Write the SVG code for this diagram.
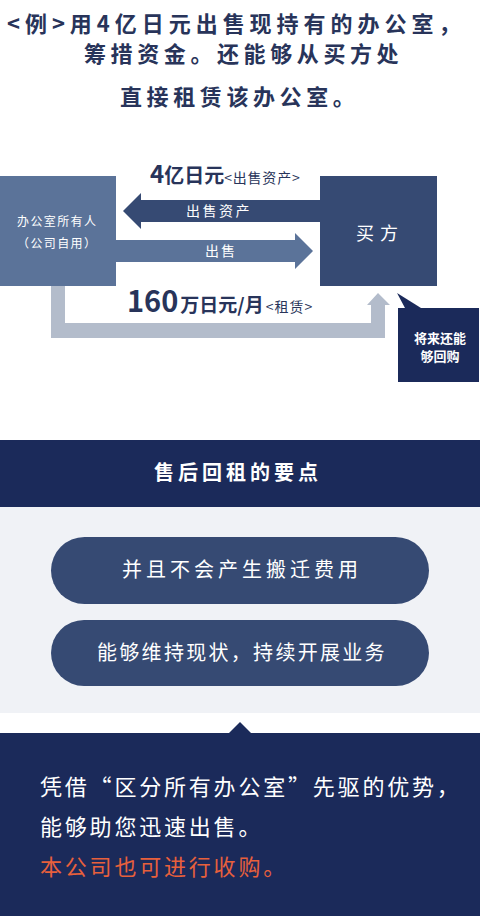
<svg xmlns="http://www.w3.org/2000/svg" width="480" height="916" viewBox="0 0 480 916">
<style>
text{font-family:"Noto Sans CJK SC","Noto Sans",sans-serif}
.title{font-size:22px;fill:#28345a;font-weight:700;letter-spacing:4.6px}
.w{fill:#ffffff}
.b{font-weight:700}
.navy{fill:#1b2a5a}
.mid{fill:#364a73}
.light{fill:#5b7399}
.ret{fill:#b3bccb}
.dk{fill:#28345a}
</style>
<rect width="480" height="916" fill="#ffffff"/>
<g id="title">
<text class="title" x="7" y="32" textLength="458" lengthAdjust="spacing" letter-spacing="0">&lt;例&gt;用4亿日元出售现持有的办公室，</text>
<text class="title" x="84" y="62">筹措资金。还能够从买方处</text>
<text class="title" x="120" y="105">直接租赁该办公室。</text>
</g>
<g id="connectors">
<polygon class="mid" points="320,200 141,200 141,193 123,211 141,229 141,222 320,222"/>
<polygon class="light" points="116,240 295,240 295,233 313,251 295,269 295,262 116,262"/>
<polygon class="ret" points="51,286 65,286 65,323 371,323 371,305 367,305 378,293 390,305 385,305 385,338 51,338"/>
<text class="w" x="186" y="216" font-size="14" letter-spacing="2.5">出售资产</text>
<text class="w" x="205" y="256" font-size="14" letter-spacing="2">出售</text>
<text class="dk b" x="150" y="183" font-size="20"><tspan font-size="24">4</tspan>亿日元<tspan font-size="14" font-weight="400" letter-spacing="0.8" dx="0">&lt;出售资产&gt;</tspan></text>
<text class="dk b" x="127" y="312" font-size="19"><tspan font-size="29">160</tspan><tspan dx="2">万日元/月</tspan><tspan font-size="14" font-weight="400" letter-spacing="1" dx="2">&lt;租赁&gt;</tspan></text>
</g>
<g id="owner">
<rect class="light" x="0" y="176" width="116" height="110"/>
<text class="w" x="17" y="226" font-size="12" letter-spacing="1.4">办公室所有人</text>
<text class="w" x="17" y="248" font-size="12" letter-spacing="1.4">（公司自用）</text>
</g>
<g id="buyer">
<rect class="mid" x="320" y="176" width="117" height="110"/>
<text class="w" x="356" y="240" font-size="18" letter-spacing="6">买方</text>
</g>
<g id="buyback">
<polygon class="navy" points="397,293 421,308 405,308"/>
<rect class="navy" x="398" y="308" width="81" height="74"/>
<text class="w b" x="440" y="343" font-size="13" text-anchor="middle">将来还能</text>
<text class="w b" x="440" y="361" font-size="13" text-anchor="middle">够回购</text>
</g>
<g id="points-header">
<rect class="navy" x="0" y="440" width="480" height="67"/>
<text class="w b" x="154" y="480" font-size="20" letter-spacing="4">售后回租的要点</text>
</g>
<g id="points-bg">
<rect x="0" y="507" width="480" height="206" fill="#f0f2f6"/>
</g>
<g id="point1">
<rect class="mid" x="51" y="537" width="378" height="67" rx="33.5"/>
<text class="w" x="122" y="577" font-size="20" letter-spacing="4">并且不会产生搬迁费用</text>
</g>
<g id="point2">
<rect class="mid" x="51" y="620" width="378" height="66" rx="33"/>
<text class="w" x="97" y="660" font-size="20" letter-spacing="2.3">能够维持现状，持续开展业务</text>
</g>
<g id="bottom">
<rect class="navy" x="0" y="733" width="480" height="183"/>
<polygon class="navy" points="228,734 240,722 252,734"/>
<text class="w" x="40" y="795" font-size="22" letter-spacing="2.8">凭借“区分所有办公室”先驱的优势，</text>
<text class="w" x="40" y="835" font-size="22" letter-spacing="2.8">能够助您迅速出售。</text>
<text x="40" y="875" font-size="22" letter-spacing="2.8" fill="#e8603c">本公司也可进行收购。</text>
</g>
</svg>
